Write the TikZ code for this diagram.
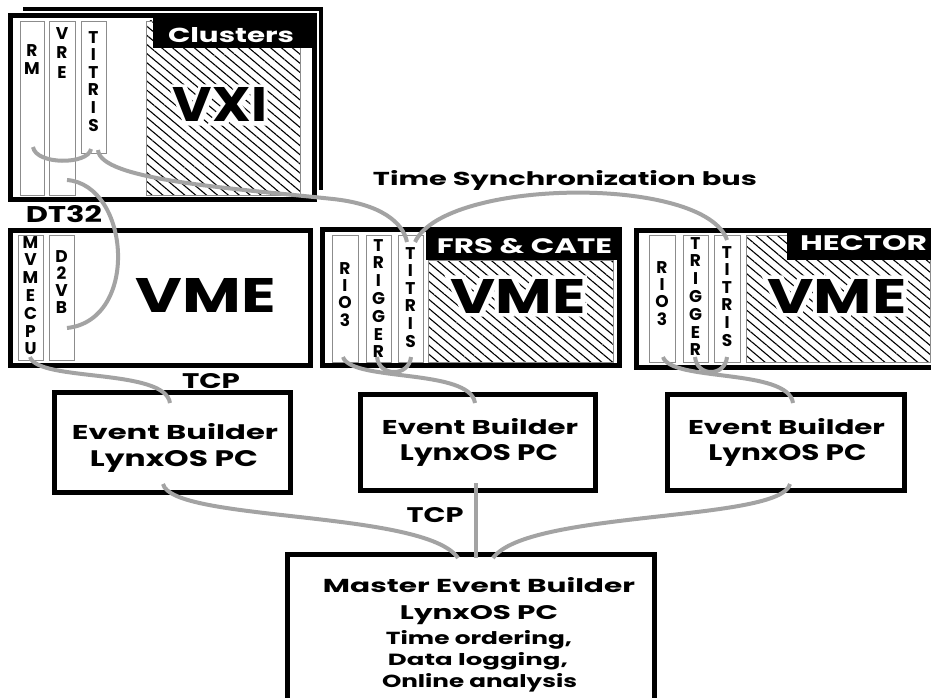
\documentclass[tikz,border=0pt]{standalone}
\usepackage{fontspec}
\setmainfont{Poppins}
\usetikzlibrary{patterns.meta,calc}
\definecolor{wiregray}{HTML}{A3A3A3}
\definecolor{boardgray}{HTML}{8C8C8C}
\newcommand{\fitt}[3]{\resizebox{#1pt}{#2pt}{\bfseries #3}}
\newcommand{\halofit}[3]{\resizebox{#1pt}{#2pt}{\bfseries\rlap{\color{white}\special{pdf:literal direct 2 Tr 1.5 w 1 1 1 RG}#3\special{pdf:literal direct 0 Tr}}#3}}
\begin{document}
\begin{tikzpicture}[x=1pt,y=-1pt,
  crate/.style={draw=black, line width=5pt, fill=white, inner sep=0pt},
  boardbox/.style={draw=boardgray, line width=0.9pt, fill=white, inner sep=0pt, anchor=north west},
  hatcharea/.style={draw=boardgray, line width=0.8pt, pattern={Lines[angle=-40,distance=7pt,line width=1.1pt]}},
  blacktag/.style={fill=black, draw=none, inner sep=0pt, anchor=north west},
  btext/.style={inner sep=0pt, text=black, anchor=base},
  wtext/.style={inner sep=0pt, text=white, anchor=base},
  vlet/.style={inner sep=0pt, align=center, anchor=north, font=\fontsize{17}{#1}\selectfont\bfseries},
  conn/.style={draw=wiregray, line width=4pt},
]
\useasboundingbox (0,0) rectangle (931,698);
\clip (0,0) rectangle (931,698);

% ---------------- VXI crate ----------------
\node[crate, minimum width=295, minimum height=178] (vxiback) at (173,98.5) {};
\draw[white, line width=9pt] (10.5,15.5) rectangle (314.5,199.5);
\node[crate, minimum width=304, minimum height=184] (vxi) at (162.5,107.5) {};
\path[hatcharea] (146,21) rectangle (300,195);
\node[blacktag, minimum width=160, minimum height=33] (clusters) at (153,15) {};
\node[wtext] (clusterstxt) at (231,43) {\fitt{126}{15}{Clusters}};
\node[boardbox, minimum width=24, minimum height=174] (rm) at (20,21) {};
\node[boardbox, minimum width=26, minimum height=174] (vre) at (49,21) {};
\node[boardbox, minimum width=25, minimum height=132] (titv) at (81,21) {};
\node[vlet=18] (rmtxt) at (32,44) {R\\M};
\node[vlet=19.5] (vretxt) at (62,27) {V\\R\\E};
\node[vlet=17.6] (titvtxt) at (93.5,31) {T\\I\\T\\R\\I\\S};
\node[btext] (vxitxt) at (220,122) {\halofit{94}{34}{VXI}};

\node[btext] (dt32) at (64,222) {\fitt{76}{17}{DT32}};
\node[btext] (tsb) at (565,185) {\fitt{384}{15}{Time Synchronization bus}};

% ---------------- left VME crate ----------------
\node[crate, minimum width=300, minimum height=135] (vme1) at (160.5,298) {};
\node[boardbox, minimum width=25, minimum height=125] (mvme) at (18,235) {};
\node[boardbox, minimum width=25, minimum height=125] (d2vb) at (49,235) {};
\node[vlet=17.8] (mvmetxt) at (30.5,236) {M\\V\\M\\E\\C\\P\\U};
\node[vlet=17] (d2vbtxt) at (61.5,250) {D\\2\\V\\B};
\node[btext] (vme1txt) at (206,312) {\fitt{140}{34}{VME}};

% ---------------- FRS & CATE crate ----------------
\node[crate, minimum width=297, minimum height=136] (vme2) at (471,297.5) {};
\path[hatcharea] (428,260) rectangle (613,362);
\node[blacktag, minimum width=196, minimum height=33] (frs) at (426,227) {};
\node[wtext] (frstxt) at (524.5,253) {\fitt{175}{15}{FRS \& CATE}};
\node[boardbox, minimum width=26, minimum height=127] (rio2) at (332,235) {};
\node[boardbox, minimum width=25, minimum height=127] (trig2) at (366,235) {};
\node[boardbox, minimum width=25, minimum height=127] (tit2) at (398,235) {};
\node[vlet=17.3] (rio2txt) at (345,262) {R\\I\\O\\3};
\node[vlet=17.8] (trig2txt) at (378.5,239) {T\\R\\I\\G\\G\\E\\R};
\node[vlet=17.6] (tit2txt) at (410.5,247) {T\\I\\T\\R\\I\\S};
\node[btext] (vme2txt) at (518,313) {\halofit{135}{34}{VME}};

% ---------------- HECTOR crate ----------------
\node[crate, minimum width=299.5, minimum height=137] (vme3) at (786.25,299) {};
\path[hatcharea] (746,235) rectangle (930,362);
\node[blacktag, minimum width=149, minimum height=32] (hector) at (787,228) {};
\node[wtext] (hectortxt) at (863.5,250) {\fitt{127}{15}{HECTOR}};
\node[boardbox, minimum width=26, minimum height=127] (rio3) at (649,235) {};
\node[boardbox, minimum width=25, minimum height=127] (trig3) at (683,235) {};
\node[boardbox, minimum width=26, minimum height=127] (tit3) at (714,235) {};
\node[vlet=17.3] (rio3txt) at (662,261) {R\\I\\O\\3};
\node[vlet=17.8] (trig3txt) at (695.5,237) {T\\R\\I\\G\\G\\E\\R};
\node[vlet=17.6] (tit3txt) at (727,246) {T\\I\\T\\R\\I\\S};
\node[btext] (vme3txt) at (837,313) {\halofit{139}{34}{VME}};

% ---------------- Event builders ----------------
\node[btext] (tcp1) at (211,388) {\fitt{58}{15}{TCP}};
\node[crate, minimum width=236, minimum height=100] (eb1) at (172.5,442.5) {};
\node[btext] (eb1a) at (175,439) {\fitt{206}{16}{Event Builder}};
\node[btext] (eb1b) at (174,466) {\fitt{168}{16}{LynxOS PC}};

\node[crate, minimum width=235, minimum height=96] (eb2) at (478,442.5) {};
\node[btext] (eb2a) at (480,434) {\fitt{196}{16}{Event Builder}};
\node[btext] (eb2b) at (479,460) {\fitt{158}{16}{LynxOS PC}};

\node[crate, minimum width=237, minimum height=96] (eb3) at (786,442.5) {};
\node[btext] (eb3a) at (786.5,434) {\fitt{197}{16}{Event Builder}};
\node[btext] (eb3b) at (787.5,460) {\fitt{158}{16}{LynxOS PC}};

\node[btext] (tcp2) at (435,522) {\fitt{57}{15}{TCP}};

% ---------------- Master event builder ----------------
\node[crate, minimum width=367, minimum height=155.5] (master) at (471,632.25) {};
\node[btext] (m1) at (479,592) {\fitt{312}{15}{Master Event Builder}};
\node[btext] (m2) at (479,619) {\fitt{158}{14}{LynxOS PC}};
\node[btext] (m3) at (479,644) {\fitt{186}{14}{Time ordering,}};
\node[btext] (m4) at (478,665) {\fitt{180}{13}{Data logging,}};
\node[btext] (m5) at (479.5,687) {\fitt{195}{14}{Online analysis}};

% ---------------- connector end points ----------------
\coordinate (pRM) at (33,147);
\coordinate (pTVa) at (91,149);
\coordinate (pTVb) at (98,150);
\coordinate (pVXIexit) at (333,199);
\coordinate (pVRE) at (67,180);
\coordinate (pD2VB) at (67,328);
\coordinate (pT2a) at (407,242);
\coordinate (pT2b) at (415,242);
\coordinate (pT3) at (727,240);
\coordinate (pMV) at (30,357);
\coordinate (pEB1t) at (170,403);
\coordinate (pR2) at (343,357);
\coordinate (pEB2t) at (475,403);
\coordinate (pR3) at (663,357);
\coordinate (pEB3t) at (793,403);
\coordinate (pG2) at (377,357);
\coordinate (pS2) at (411,357);
\coordinate (pG3) at (695,357);
\coordinate (pS3) at (727,357);
\coordinate (pEB1b) at (163,484);
\coordinate (pEB2b) at (476,483);
\coordinate (pEB3b) at (790,484);
\coordinate (pMa) at (458,558);
\coordinate (pMb) at (476,558);
\coordinate (pMc) at (493,558);

% ---------------- connectors ----------------
\draw[conn] (pRM) .. controls (36,165) and (88,165) .. (pTVa);
\draw[conn] (pTVb) .. controls (100,180) and (230,188) .. (pVXIexit)
            .. controls (380,204) and (403,222) .. (pT2a);
\draw[conn] (pVRE) .. controls (130,185) and (140,320) .. (pD2VB);
\draw[conn] (pT2b) .. controls (445,178) and (705,175) .. (pT3);
\draw[conn] (pMV) .. controls (38,382) and (165,368) .. (pEB1t);
\draw[conn] (pR2) .. controls (351,382) and (470,368) .. (pEB2t);
\draw[conn] (pR3) .. controls (671,382) and (788,368) .. (pEB3t);
\draw[conn] (pG2) .. controls (379,377) and (409,377) .. (pS2);
\draw[conn] (pG3) .. controls (697,377) and (725,377) .. (pS3);
\draw[conn] (pEB1b) .. controls (172,522) and (425,510) .. (pMa);
\draw[conn] (pEB2b) -- (pMb);
\draw[conn] (pEB3b) .. controls (781,522) and (528,510) .. (pMc);
\end{tikzpicture}
\end{document}
